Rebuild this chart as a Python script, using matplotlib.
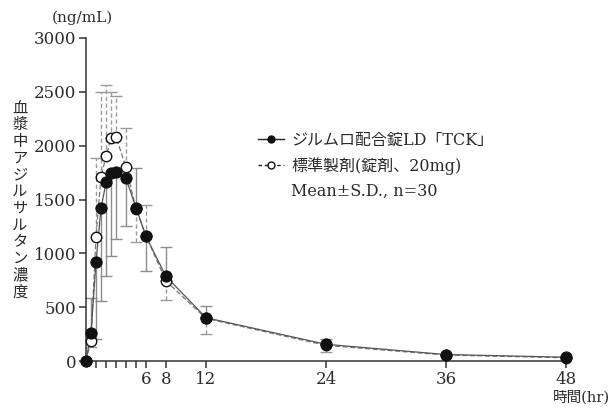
import matplotlib
matplotlib.use("Agg")
import matplotlib.pyplot as plt
from matplotlib.lines import Line2D
import numpy as np

# ---- data ----
times = [0, 0.5, 1, 1.5, 2, 2.5, 3, 4, 5, 6, 8, 12, 24, 36, 48]
test_mean = [0, 263, 916, 1417, 1658, 1745, 1760, 1696, 1423, 1157, 785, 402, 155, 60, 35]
test_sd_up = [0, 321, 0, 0, 0, 0, 0, 0, 367, 0, 275, 111, 49, 0, 0]
test_sd_dn = [0, 0, 715, 860, 869, 770, 631, 439, 0, 321, 0, 0, 0, 0, 0]
ref_mean = [0, 189, 1154, 1711, 1900, 2067, 2082, 1800, 1415, 1160, 743, 395, 145, 55, 30]
ref_sd_up = [0, 0, 736, 789, 660, 433, 378, 360, 0, 290, 0, 0, 0, 0, 0]
ref_sd_dn = [0, 56, 0, 0, 0, 0, 0, 0, 313, 0, 177, 145, 62, 0, 0]

xticks = [1, 2, 3, 4, 5, 6, 8, 12, 24, 36, 48]
xticklabels = ["", "", "", "", "", "6", "8", "12", "24", "36", "48"]
yticks = [0, 500, 1000, 1500, 2000, 2500, 3000]

label_test = "ジルムロ配合錠LD「TCK」"
label_ref = "標準製剤(錠剤、20mg)"
label_stat = "Mean±S.D., n=30"
ylabel = "血漿中アジルサルタン濃度"
unit = "(ng/mL)"
xlabel = "時間(hr)"

FAM = ["DejaVu Serif", "Noto Sans CJK JP"]
TXT = "#2a2a30"

W, H = 612, 408
fig = plt.figure(figsize=(W / 100, H / 100), dpi=100)
ax = fig.add_axes([86 / W, 1 - 361 / H, (566 - 86) / W, (361 - 38) / H])

# error bars
eb_ref = ax.errorbar(times, ref_mean, yerr=[ref_sd_dn, ref_sd_up], fmt="none",
                     ecolor="#9a9a9a", elinewidth=1.0, capsize=4, capthick=1.0,
                     zorder=2, clip_on=False)
for lc in eb_ref[2]:
    lc.set_linestyle((0, (3, 2)))
eb_test = ax.errorbar(times, test_mean, yerr=[test_sd_dn, test_sd_up], fmt="none",
                      ecolor="#8c8c8c", elinewidth=1.0, capsize=4, capthick=1.0,
                      zorder=2, clip_on=False)

# lines and markers
ax.plot(times, ref_mean, linestyle=(0, (4, 2)), color="#777777", lw=0.9, zorder=3,
        clip_on=False)
ax.plot(times, test_mean, linestyle="-", color="#555555", lw=0.9, zorder=3, clip_on=False)
ax.plot(times, ref_mean, linestyle="none", marker="o", ms=7.5, mfc="white",
        mec="#111111", mew=1.0, zorder=4, clip_on=False)
ax.plot(times, test_mean, linestyle="none", marker="o", ms=8, mfc="#111111",
        mec="#111111", mew=0.8, zorder=5, clip_on=False)

ax.set_xlim(0, 48)
ax.set_ylim(0, 3000)
for s in ["top", "right"]:
    ax.spines[s].set_visible(False)
for s in ["left", "bottom"]:
    ax.spines[s].set_color("#333333")
    ax.spines[s].set_linewidth(1.1)

ax.set_xticks(xticks)
ax.set_xticklabels(xticklabels, family=FAM, fontsize=12, color=TXT)
ax.set_yticks(yticks)
ax.set_yticklabels([str(v) for v in yticks], family=FAM, fontsize=12, color=TXT)
ax.tick_params(axis="both", direction="out", length=5, width=1.1, color="#333333")
ax.tick_params(axis="x", pad=2)
ax.tick_params(axis="y", pad=2)

# legend
h1 = Line2D([], [], color="#222222", lw=1.0, marker="o", ms=5, mfc="#111111", mec="#111111")
h2 = Line2D([], [], color="#222222", lw=1.0, linestyle=(0, (2.5, 2)), marker="o", ms=5,
            mfc="white", mec="#111111")
h3 = Line2D([], [], color="none")
leg = fig.legend([h1, h2, h3], [label_test, label_ref, label_stat],
                 loc="upper left", bbox_to_anchor=(258 / W, 1 - 132 / H),
                 frameon=False, borderpad=0, borderaxespad=0, handlelength=1.65,
                 handletextpad=0.42, labelspacing=0.5,
                 prop={"family": FAM, "size": 11.5})
for t in leg.get_texts():
    t.set_color(TXT)

# y label (vertical, stacked characters)
n = len(ylabel)
y0, y1 = 108, 292
for i, ch in enumerate(ylabel):
    yy = y0 + (y1 - y0) * i / (n - 1)
    fig.text(20 / W, 1 - yy / H, ch, ha="center", va="center",
             family=["Noto Sans CJK JP"], fontsize=11, color=TXT)

fig.text(52 / W, 1 - 18 / H, unit, ha="left", va="center", family=FAM, fontsize=11,
         color=TXT)
fig.text(610 / W, 1 - 397 / H, xlabel, ha="right", va="center", family=FAM,
         fontsize=10.5, color=TXT)

fig.savefig("out.png", dpi=100)
